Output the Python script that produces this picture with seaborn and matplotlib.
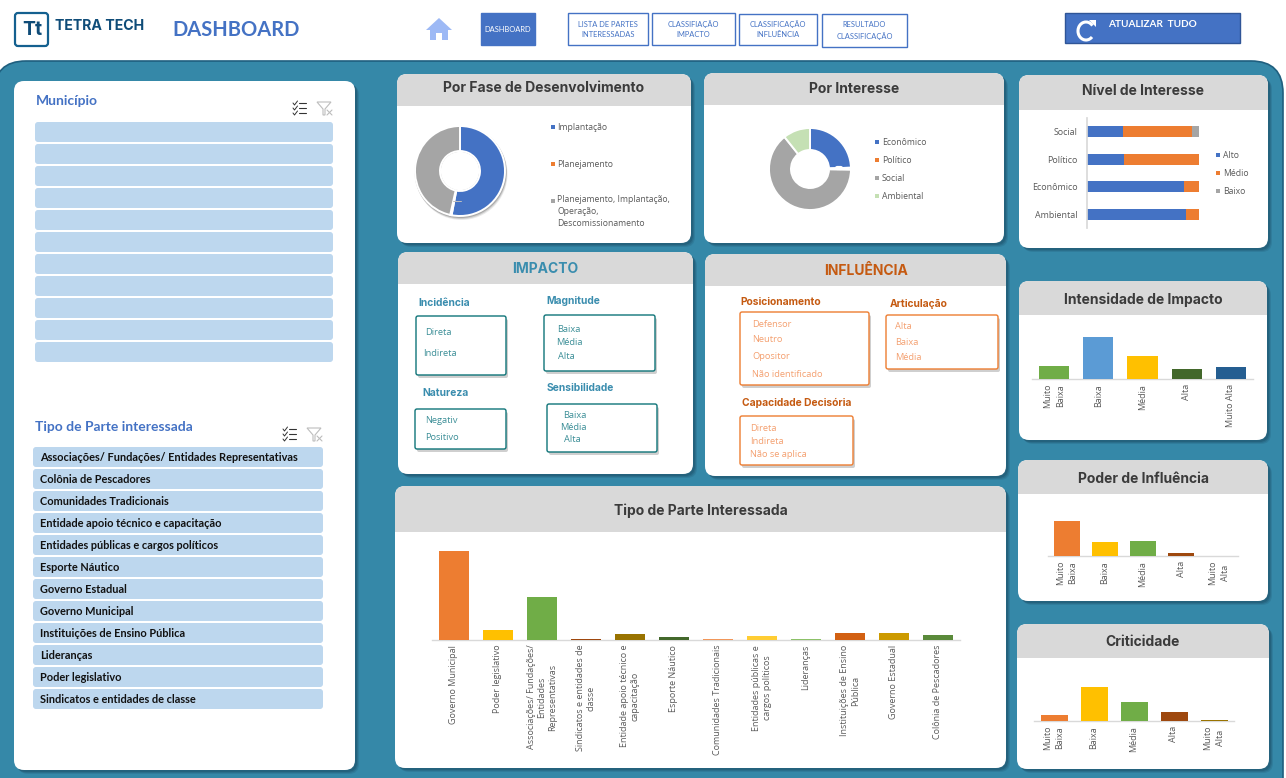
import matplotlib
matplotlib.use('Agg')
import matplotlib.pyplot as plt
import seaborn as sns
from matplotlib.lines import Line2D
from matplotlib.patches import FancyBboxPatch, Rectangle, Polygon, Circle, Arc

# Values
tipo_labels = ['Governo Municipal', 'Poder legislativo', 'Associações/ Fundações/\nEntidades\nRepresentativas',
               'Sindicatos e entidades de\nclasse', 'Entidade apoio técnico e\ncapacitação', 'Esporte Náutico',
               'Comunidades Tradicionais', 'Entidades públicas e\ncargos políticos', 'Lideranças',
               'Instituições de Ensino\nPública', 'Governo Estadual', 'Colônia de Pescadores']
tipo_values = [89, 10, 43, 1, 6, 3, 1, 4, 1, 7, 7, 5]
tipo_colors = ['#ED7D31', '#FFC000', '#70AD47', '#9E480E', '#997300', '#43682B',
               '#F1975A', '#FFCD33', '#8CC168', '#D26012', '#CC9A00', '#5A8A3A']

intensidade_labels = ['Muito\nBaixa', 'Baixa', 'Média', 'Alta', 'Muito Alta']
intensidade_values = [13, 42, 23, 10, 12]
intensidade_colors = ['#70AD47', '#5B9BD5', '#FFC000', '#43682B', '#255E91']

poder_labels = ['Muito\nBaixa', 'Baixa', 'Média', 'Alta', 'Muito\nAlta']
poder_values = [35, 14, 15, 3, 0]
poder_colors = ['#ED7D31', '#FFC000', '#70AD47', '#9E480E', '#636363']

criticidade_labels = ['Muito\nBaixa', 'Baixa', 'Média', 'Alta', 'Muito\nAlta']
criticidade_values = [6, 34, 19, 9, 1]
criticidade_colors = ['#ED7D31', '#FFC000', '#70AD47', '#9E480E', '#997300']

nivel_labels = ['Social', 'Político', 'Econômico', 'Ambiental']
nivel_alto = [32, 33, 87, 88]
nivel_medio = [62, 67, 13, 12]
nivel_baixo = [6, 0, 0, 0]

fase_labels = ['Implantação', 'Planejamento', 'Planejamento, Implantação,\nOperação,\nDescomissionamento']
fase_values = [53, 0.5, 46.5]
interesse_labels = ['Econômico', 'Político', 'Social', 'Ambiental']
interesse_values = [24.5, 0.8, 64, 10.7]

partes = ['Associações/ Fundações/ Entidades Representativas', 'Colônia de Pescadores', 'Comunidades Tradicionais',
          'Entidade apoio técnico e capacitação', 'Entidades públicas e cargos políticos', 'Esporte Náutico',
          'Governo Estadual', 'Governo Municipal', 'Instituições de Ensino Pública', 'Lideranças',
          'Poder legislativo', 'Sindicatos e entidades de classe']

BLUE, ORANGE, GRAY, LGREEN = '#4472C4', '#ED7D31', '#A5A5A5', '#C5E0B4'
TEAL = '#3588A8'
W, H = 1286, 778

sns.set_theme(style='white')
plt.rcParams['font.family'] = ['Open Sans', 'DejaVu Sans']

fig = plt.figure(figsize=(W / 100, H / 100), dpi=100, facecolor='white')
bg = fig.add_axes([0, 0, 1, 1], zorder=0)
bg.set_xlim(0, W)
bg.set_ylim(H, 0)
bg.axis('off')


def rbox(x0, y0, x1, y1, r, **kw):
    p = FancyBboxPatch((x0 + r, y0 + r), x1 - x0 - 2 * r, y1 - y0 - 2 * r,
                       boxstyle=f'round,pad={r},rounding_size={r}', **kw)
    bg.add_patch(p)
    return p


def card(x0, y0, x1, y1, head=None, title=None, color='#3B3B3B', size=10, title_y=None, title_x=None, r=10):
    for off, a in ((4, .18), (3, .25), (2, .35)):
        rbox(x0 + off, y0 + off, x1 + off, y1 + off, r, fc='#1A4A63', ec='none', alpha=a)
    p = rbox(x0, y0, x1, y1, r, fc='white', ec='none')
    if head:
        h = Rectangle((x0, y0), x1 - x0, head - y0, fc='#D9D9D9', ec='none')
        bg.add_patch(h)
        h.set_clip_path(p)
    if title:
        bg.text(title_x or (x0 + x1) / 2, title_y or (y0 + head) / 2, title, ha='center', va='center',
                fontsize=size, fontweight='bold', color=color, family=['Inter', 'DejaVu Sans'])


def px_axes(x0, x1, ytop, ybase):
    ax = fig.add_axes([x0 / W, 1 - ybase / H, (x1 - x0) / W, (ybase - ytop) / H], zorder=2)
    ax.patch.set_alpha(0)
    return ax


def col_chart(labels, values, colors, x0, x1, ytop, ybase, width, ymax, size=6.5, gap=1.25):
    ax = px_axes(x0, x1, ytop, ybase)
    sns.barplot(x=list(range(len(values))), y=values, hue=list(range(len(values))), palette=colors,
                width=width, legend=False, ax=ax, saturation=1, zorder=3, linewidth=0)
    ax.set_xlim(-.5, len(values) - .5)
    ax.set_ylim(0, ymax)
    ax.set_xlabel('')
    ax.set_ylabel('')
    ax.set_yticks([])
    ax.set_xticks(range(len(values)))
    ax.set_xticklabels(labels, rotation=90, ha='center', va='top', multialignment='center',
                       fontsize=size, color='#595959', linespacing=gap)
    ax.tick_params(axis='x', length=0, pad=3.5)
    sns.despine(ax=ax, left=True)
    ax.spines['bottom'].set_color('#D9D9D9')
    ax.spines['bottom'].set_linewidth(1)
    ax.spines['bottom'].set_zorder(1)
    return ax


def donut(values, colors, cx, cy, r, hole, shadow=False):
    ax = px_axes(cx - r - 2, cx + r + 2, cy - r - 2, cy + r + 2)
    if shadow:
        for off, a in ((3, .12), (2, .2), (1, .3)):
            bg.add_patch(Circle((cx + off / 2, cy + off), r + 1, fc='#555555', ec='none', alpha=a))
        bg.add_patch(Circle((cx, cy), hole, fc='white', ec='#C4C4C4', lw=1.2))
    ax.pie(values, colors=colors, startangle=90, counterclock=False, radius=r / (r + 2),
           wedgeprops=dict(width=(r - hole) / (r + 2), edgecolor='white', linewidth=1.4))
    ax.set_xlim(-1, 1)
    ax.set_ylim(-1, 1)


def leader(x0, x1, y, color, lw):
    fig.add_artist(Line2D([x0 / W, x1 / W], [1 - y / H, 1 - y / H], color=color, lw=lw, zorder=5))


def legend(labels, colors, mx, tx, ys, size=6.2):
    for lab, c, y in zip(labels, colors, ys):
        bg.add_patch(Rectangle((mx - 2, y - 2), 4, 4, fc=c, ec='none', zorder=4))
        bg.text(tx - 1, y - 6 if '\n' in lab else y, lab, va='top' if '\n' in lab else 'center', fontsize=size,
                color='#595959', linespacing=1.45, zorder=4)


def check_icon(x, y):
    for dy in (-5, 0, 5):
        bg.plot([x - 6, x - 4.5, x - 1.5], [y + dy, y + dy + 2, y + dy - 2], color='#333333', lw=.7)
        bg.plot([x, x + 7], [y + dy, y + dy], color='#333333', lw=.8)


def filter_icon(x, y):
    bg.add_patch(Polygon([(x - 7, y - 6), (x + 7, y - 6), (x + 1, y + 1), (x + 1, y + 7), (x - 1, y + 7), (x - 1, y + 1)],
                         fc='none', ec='#BDBDBD', lw=.8))
    bg.plot([x + 3, x + 8], [y + 2, y + 7], color='#BDBDBD', lw=.8)
    bg.plot([x + 8, x + 3], [y + 2, y + 7], color='#BDBDBD', lw=.8)


# top strip: logo, title and buttons
rbox(15, 13, 48, 46, 3, fc='white', ec='#14608F', lw=1.6)
bg.text(32, 30, 'Tt', ha='center', va='center', fontsize=14, fontweight='bold', color='#0F4C78',
        family=['Inter', 'DejaVu Sans'])
bg.text(55, 26, 'TETRA TECH', va='center', fontsize=10.2, fontweight='bold', color='#0F4C78',
        family=['Inter', 'DejaVu Sans'])
bg.text(172, 30, 'DASHBOARD', va='center', fontsize=14.5, fontweight='bold', color=BLUE,
        family=['Lato', 'DejaVu Sans'])
bg.add_patch(Polygon([(426, 30), (439, 18), (452, 30), (448, 30), (448, 40), (442, 40), (442, 33), (436, 33),
                      (436, 40), (430, 40), (430, 30)], fc='#9DB9F5', ec='none'))

buttons = [('DASHBOARD', 481, 535, 13, 45), ('LISTA DE PARTES\nINTERESSADAS', 568, 648, 13, 45),
           ('CLASSIFIAÇÃO\nIMPACTO', 652, 735, 13, 45), ('CLASSIFICAÇÃO\nINFLUÊNCIA', 739, 817, 14, 45),
           ('RESULTADO\nCLASSIFICAÇÃO', 822, 907, 14, 47)]
for i, (txt, x0, x1, y0, y1) in enumerate(buttons):
    bg.add_patch(Rectangle((x0, y0), x1 - x0, y1 - y0, fc=BLUE if i == 0 else 'white', ec=BLUE, lw=1))
    bg.text((x0 + x1) / 2, (y0 + y1) / 2, txt, ha='center', va='center', fontsize=5.4, linespacing=1.5,
            color='white' if i == 0 else BLUE, family=['Lato', 'DejaVu Sans'])

bg.add_patch(Rectangle((1065, 13), 175, 30, fc=BLUE, ec='#2F5597', lw=1))
bg.text(1108, 24, 'ATUALIZAR  TUDO', va='center', fontsize=7.2, fontweight='bold', color='white',
        family=['Lato', 'DejaVu Sans'])
bg.add_patch(Arc((1086, 31), 16, 18, theta1=45, theta2=320, color='white', lw=2.2))
bg.add_patch(Polygon([(1089, 20), (1096, 20), (1096, 27)], fc='white', ec='none'))

# teal panel
rbox(-6, 61, 1283, 830, 32, fc=TEAL, ec='#1F5F7F', lw=1.2)

# cards
card(14, 81, 355, 770)
card(397, 74, 691, 243, 106, 'Por Fase de Desenvolvimento', title_y=87.5)
card(704, 73, 1004, 243, 105, 'Por Interesse', title_y=89)
card(398, 252, 693, 474, 284, 'IMPACTO', color='#3A8DAE', title_y=268.5)
card(705, 254, 1006, 476, 286, 'INFLUÊNCIA', color='#C55A11', title_y=270.5, title_x=866)
card(395, 486, 1006, 768, 532, 'Tipo de Parte Interessada', title_y=511)
card(1019, 75, 1268, 248, 110, 'Nível de Interesse', title_y=91)
card(1019, 281, 1267, 440, 315, 'Intensidade de Impacto', title_y=300)
card(1018, 460, 1268, 601, 494, 'Poder de Influência', title_y=479)
card(1017, 624, 1269, 769, 658, 'Criticidade', title_y=642)

# slicers on the left
bg.text(36, 101, 'Município', va='center', fontsize=10, fontweight='bold', color=BLUE, family=['Lato', 'DejaVu Sans'])
bg.text(35, 427, 'Tipo de Parte interessada', va='center', fontsize=10, fontweight='bold', color=BLUE,
        family=['Lato', 'DejaVu Sans'])
check_icon(299, 108)
filter_icon(324, 108)
check_icon(289, 434)
filter_icon(314, 434)
for i in range(11):
    rbox(35, 122 + 22 * i, 333, 142 + 22 * i, 3, fc='#BDD7EE', ec='none')
for i, name in enumerate(partes):
    rbox(33, 447 + 22 * i, 323, 467 + 22 * i, 3, fc='#BDD7EE', ec='none')
    bg.text(40, 457.5 + 22 * i, name, va='center', fontsize=7.9, fontweight='bold', color='#111111',
            family=['Lato', 'DejaVu Sans'])

# filter boxes
def filter_box(title, tx, ty, box, items, color, edge, tcolor):
    bg.text(tx, ty + 1, title, va='center', fontsize=7.4, fontweight='bold', color=tcolor,
            family=['Inter', 'DejaVu Sans'])
    x0, y0, x1, y1 = box
    rbox(x0 + 2, y0 + 3, x1 + 2, y1 + 3, 2, fc='#777777', ec='none', alpha=.35)
    rbox(x0, y0, x1, y1, 2, fc='white', ec=edge, lw=1)
    for txt, ix, iy in items:
        bg.text(ix - 1, iy, txt, va='center', fontsize=6.7, color=color)


IMP_T, IMP_E, IMP_X = '#3A8DAE', '#0F7478', '#3B8E97'
INF_T, INF_E, INF_X = '#C55A11', '#ED7D31', '#F4A070'
filter_box('Incidência', 418, 302, (416, 316, 506, 375), [('Direta', 426, 332), ('Indireta', 424, 353)], IMP_X, IMP_E, IMP_T)
filter_box('Magnitude', 546, 300, (544, 315, 655, 371), [('Baixa', 558, 329), ('Média', 557, 342), ('Alta', 559, 356)], IMP_X, IMP_E, IMP_T)
filter_box('Natureza', 422, 392, (415, 409, 506, 449), [('Negativ', 426, 420), ('Positivo', 426, 437)], IMP_X, IMP_E, IMP_T)
filter_box('Sensibilidade', 547, 387, (547, 404, 657, 452), [('Baixa', 564, 415), ('Média', 561, 427), ('Alta', 565, 439)], IMP_X, IMP_E, IMP_T)
filter_box('Posicionamento', 740, 301, (740, 312, 869, 385),
           [('Defensor', 753, 324), ('Neutro', 753, 339), ('Opositor', 753, 356), ('Não identificado', 753, 374)], INF_X, INF_E, INF_T)
filter_box('Articulação', 890, 303, (886, 315, 998, 369), [('Alta', 896, 326), ('Baixa', 896, 342), ('Média', 896, 357)], INF_X, INF_E, INF_T)
filter_box('Capacidade Decisória', 742, 402, (740, 416, 853, 465),
           [('Direta', 751, 428), ('Indireta', 751, 441), ('Não se aplica', 751, 454)], INF_X, INF_E, INF_T)

# donuts
donut(fase_values, [BLUE, ORANGE, GRAY], 460, 171, 45, 20, shadow=True)
legend(fase_labels, [BLUE, ORANGE, GRAY], 553, 558, [127, 164, 201])
leader(453, 461, 201, '#BFBFBF', .7)
donut(interesse_values, [BLUE, ORANGE, GRAY, LGREEN], 810, 169, 41, 19)
legend(interesse_labels, [BLUE, ORANGE, GRAY, LGREEN], 877, 883, [142, 160, 178, 196])
leader(837, 841, 168, 'white', 3)

# stacked bars, drawn back to front from the running totals
ax = px_axes(1087, 1199, 118, 228)
total = [a + m + b for a, m, b in zip(nivel_alto, nivel_medio, nivel_baixo)]
alto_medio = [a + m for a, m in zip(nivel_alto, nivel_medio)]
sns.barplot(x=total, y=nivel_labels, color=GRAY, width=.4, saturation=1, ax=ax, linewidth=0)
sns.barplot(x=alto_medio, y=nivel_labels, color=ORANGE, width=.4, saturation=1, ax=ax, linewidth=0)
sns.barplot(x=nivel_alto, y=nivel_labels, color=BLUE, width=.4, saturation=1, ax=ax, linewidth=0)
ax.set_xlim(0, 100)
ax.set_xticks([])
ax.set_xlabel('')
ax.set_ylabel('')
ax.tick_params(axis='y', length=0, pad=7, labelsize=6.4, labelcolor='#595959')
sns.despine(ax=ax, bottom=True)
ax.spines['left'].set_color('#D9D9D9')
legend(['Alto', 'Médio', 'Baixo'], [BLUE, ORANGE, GRAY], 1218, 1224, [155, 173, 191])

# column charts
col_chart(tipo_labels, tipo_values, tipo_colors, 432, 960, 540, 640, 30 / 44, 100)
col_chart(intensidade_labels, intensidade_values, intensidade_colors, 1032, 1253, 325, 379, 30 / 44, 54, gap=1.45)
col_chart(poder_labels, poder_values, poder_colors, 1048, 1238, 510, 556, 26 / 38, 46, gap=1.45)
col_chart(criticidade_labels, criticidade_values, criticidade_colors, 1034, 1234, 675, 721, 27 / 40, 46, gap=1.45)

fig.savefig('out.png', dpi=100, facecolor='white')
